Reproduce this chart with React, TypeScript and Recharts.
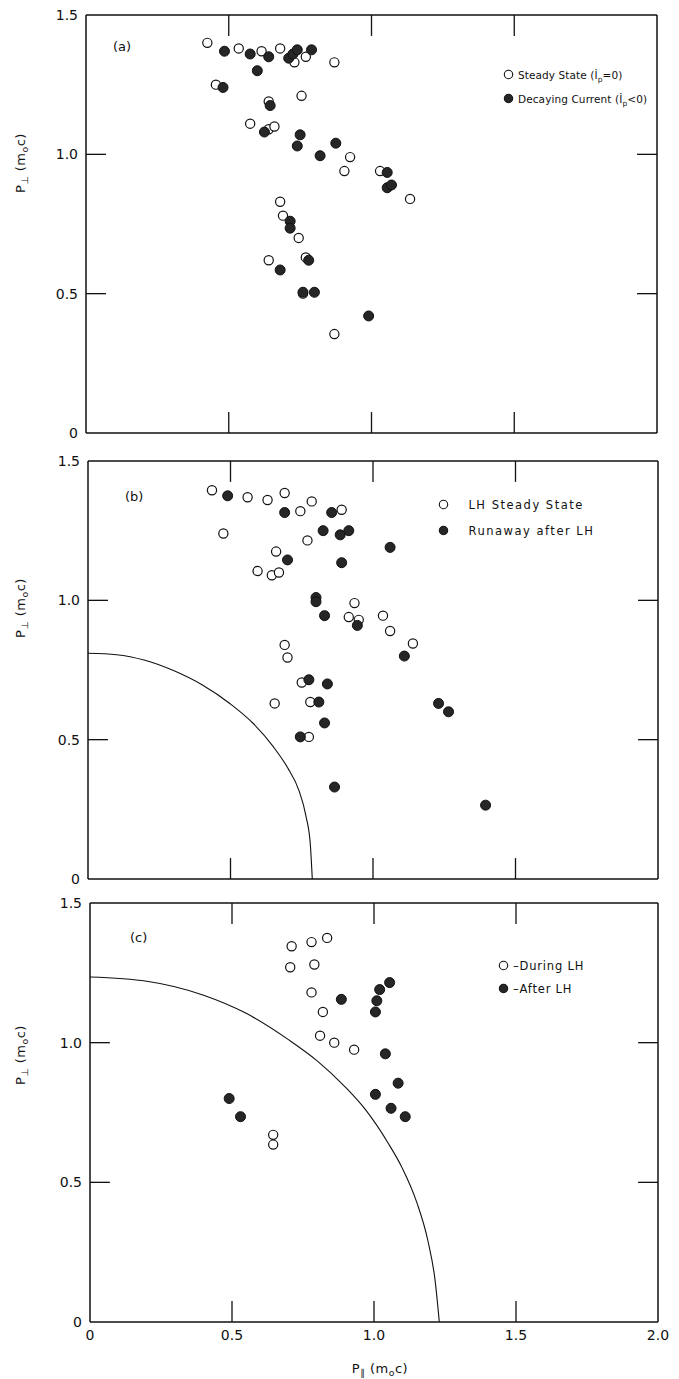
import React from "react";
import { ComposedChart, Scatter, Line, XAxis, YAxis, ReferenceLine } from "recharts";

// panel (a)
const steadyA = [
  [0.425, 1.4], [0.535, 1.38], [0.615, 1.37], [0.68, 1.38], [0.73, 1.33], [0.77, 1.35],
  [0.87, 1.33], [0.455, 1.25], [0.755, 1.21], [0.64, 1.19], [0.575, 1.11], [0.64, 1.09],
  [0.66, 1.1], [0.925, 0.99], [0.905, 0.94], [1.03, 0.94], [1.135, 0.84], [0.68, 0.83],
  [0.69, 0.78], [0.745, 0.7], [0.64, 0.62], [0.77, 0.63], [0.76, 0.5], [0.87, 0.355],
];
const decayA = [
  [0.485, 1.37], [0.575, 1.36], [0.64, 1.35], [0.71, 1.345], [0.725, 1.36], [0.74, 1.375],
  [0.79, 1.375], [0.6, 1.3], [0.48, 1.24], [0.645, 1.175], [0.625, 1.08], [0.75, 1.07],
  [0.74, 1.03], [0.875, 1.04], [0.82, 0.995], [1.055, 0.935], [1.055, 0.88], [1.07, 0.89],
  [0.715, 0.76], [0.715, 0.735], [0.78, 0.62], [0.68, 0.585], [0.76, 0.505], [0.8, 0.505],
  [0.99, 0.42],
];

// panel (b)
const steadyB = [
  [0.435, 1.395], [0.56, 1.37], [0.63, 1.36], [0.69, 1.385], [0.785, 1.355], [0.745, 1.32],
  [0.89, 1.325], [0.475, 1.24], [0.77, 1.215], [0.66, 1.175], [0.595, 1.105], [0.645, 1.09],
  [0.67, 1.1], [0.935, 0.99], [0.915, 0.94], [0.95, 0.93], [1.035, 0.945], [1.06, 0.89],
  [1.14, 0.845], [0.69, 0.84], [0.7, 0.795], [0.75, 0.705], [0.655, 0.63], [0.78, 0.635],
  [0.775, 0.51],
];
const runawayB = [
  [0.49, 1.375], [0.69, 1.315], [0.855, 1.315], [0.825, 1.25], [0.885, 1.235], [0.915, 1.25],
  [1.06, 1.19], [0.7, 1.145], [0.89, 1.135], [0.8, 1.01], [0.8, 0.995], [0.83, 0.945],
  [0.945, 0.91], [1.11, 0.8], [0.775, 0.715], [0.84, 0.7], [0.81, 0.635], [1.23, 0.63],
  [1.265, 0.6], [0.83, 0.56], [0.745, 0.51], [0.865, 0.33], [1.395, 0.265],
];
const curveB = [
  [0, 0.81], [0.1, 0.805], [0.2, 0.785], [0.3, 0.748], [0.4, 0.697], [0.5, 0.628],
  [0.58, 0.558], [0.65, 0.475], [0.7, 0.4], [0.74, 0.318], [0.765, 0.225], [0.78, 0.125],
  [0.787, 0],
];

// panel (c)
const duringC = [
  [0.71, 1.345], [0.78, 1.36], [0.835, 1.375], [0.705, 1.27], [0.79, 1.28], [0.78, 1.18],
  [0.82, 1.11], [0.81, 1.025], [0.86, 1.0], [0.93, 0.975], [0.645, 0.67], [0.645, 0.635],
];
const afterC = [
  [0.885, 1.155], [1.01, 1.15], [1.02, 1.19], [1.055, 1.215], [1.005, 1.11], [1.04, 0.96],
  [1.085, 0.855], [1.005, 0.815], [1.06, 0.765], [1.11, 0.735], [0.49, 0.8], [0.53, 0.735],
];
const curveC = [
  [0, 1.235], [0.2, 1.22], [0.4, 1.17], [0.55, 1.105], [0.7, 1.01], [0.8, 0.935],
  [0.9, 0.84], [0.97, 0.76], [1.05, 0.64], [1.1, 0.55], [1.15, 0.43], [1.19, 0.29],
  [1.215, 0.15], [1.23, 0],
];

const xTicks = [0, 0.5, 1, 1.5, 2];
const yTicks = [0, 0.5, 1, 1.5];

const INK = "#111";
const FONT = "'DejaVu Sans', sans-serif";

const toPts = (a: number[][]) => a.map(([x, y]) => ({ x, y }));
const fmt = (v: number) => (v === 0 ? "0" : v.toFixed(1));

const OpenDot = (p: any) => (
  <circle cx={p.cx} cy={p.cy} r={4.6} fill="#fff" stroke={INK} strokeWidth={1.2} />
);
const FilledDot = (p: any) => (
  <circle cx={p.cx} cy={p.cy} r={5} fill="#262626" stroke={INK} strokeWidth={1} />
);

const Sub = ({ children }: { children: React.ReactNode }) => (
  <span style={{ fontSize: "0.72em", position: "relative", top: "0.35em" }}>{children}</span>
);

function Panel(props: {
  top: number;
  height: number;
  left: number;
  right: number;
  showX: boolean;
  open: number[][];
  filled: number[][];
  curve?: number[][];
}) {
  const { top, height, left, right, showX, open, filled, curve } = props;
  const line = { stroke: INK, strokeWidth: 1.5 };
  const tk = { stroke: INK, strokeWidth: 1.3 };
  return (
    <div style={{ position: "absolute", left: 0, top }}>
      <ComposedChart
        width={679}
        height={height}
        margin={{ top: 15, right, bottom: showX ? 27 : 15, left: 0 }}
      >
        <XAxis
          type="number"
          dataKey="x"
          domain={[0, 2]}
          ticks={xTicks}
          interval={0}
          hide={!showX}
          height={30}
          axisLine={false}
          tickLine={false}
          tickFormatter={fmt}
          tick={{ fontSize: 14, fill: INK, fontFamily: FONT }}
        />
        <YAxis
          type="number"
          dataKey="y"
          domain={[0, 1.5]}
          ticks={yTicks}
          interval={0}
          width={left}
          axisLine={false}
          tickLine={false}
          tickFormatter={fmt}
          tick={{ fontSize: 14, fill: INK, fontFamily: FONT }}
        />
        <ReferenceLine x={0} {...line} ifOverflow="visible" />
        <ReferenceLine x={2} {...line} ifOverflow="visible" />
        <ReferenceLine y={0} {...line} ifOverflow="visible" />
        <ReferenceLine y={1.5} {...line} ifOverflow="visible" />
        {[0.5, 1, 1.5].map((v) => (
          <ReferenceLine key={"b" + v} segment={[{ x: v, y: 0 }, { x: v, y: 0.075 }]} {...tk} />
        ))}
        {[0.5, 1, 1.5].map((v) => (
          <ReferenceLine key={"t" + v} segment={[{ x: v, y: 1.5 }, { x: v, y: 1.425 }]} {...tk} />
        ))}
        {[0.5, 1].map((v) => (
          <ReferenceLine key={"l" + v} segment={[{ x: 0, y: v }, { x: 0.07, y: v }]} {...tk} />
        ))}
        {[0.5, 1].map((v) => (
          <ReferenceLine key={"r" + v} segment={[{ x: 2, y: v }, { x: 1.93, y: v }]} {...tk} />
        ))}
        {curve && (
          <Line
            data={toPts(curve)}
            dataKey="y"
            type="monotone"
            stroke={INK}
            strokeWidth={1.1}
            dot={false}
            activeDot={false}
            isAnimationActive={false}
          />
        )}
        <Scatter data={toPts(open)} dataKey="y" shape={OpenDot} isAnimationActive={false} />
        <Scatter data={toPts(filled)} dataKey="y" shape={FilledDot} isAnimationActive={false} />
      </ComposedChart>
    </div>
  );
}

const txt: React.CSSProperties = {
  position: "absolute",
  fontFamily: FONT,
  color: INK,
  whiteSpace: "nowrap",
  lineHeight: 1,
};

function YTitle({ cy }: { cy: number }) {
  return (
    <div
      style={{
        ...txt,
        left: 20,
        top: cy,
        fontSize: 13,
        letterSpacing: 0.5,
        transform: "translate(-50%, -50%) rotate(-90deg)",
      }}
    >
      P<Sub>⊥</Sub> (m<Sub>o</Sub>c)
    </div>
  );
}

function LegendRow(props: {
  x: number;
  y: number;
  filled: boolean;
  children: React.ReactNode;
  spacing?: number;
  size?: number;
}) {
  const { x, y, filled, children, spacing = 0.6, size = 11.5 } = props;
  return (
    <div style={{ ...txt, left: x - 5, top: y - 7, fontSize: size, letterSpacing: spacing }}>
      <svg width={11} height={11} style={{ verticalAlign: "-1px", marginRight: 4 }}>
        <circle
          cx={5.5}
          cy={5.5}
          r={4.2}
          fill={filled ? "#262626" : "#fff"}
          stroke={INK}
          strokeWidth={1.1}
        />
      </svg>
      {children}
    </div>
  );
}

export default function App() {
  return (
    <div style={{ position: "absolute", left: 0, top: 0, width: 679, height: 1379, background: "#fff" }}>
      <Panel top={0} height={448} left={86} right={22} showX={false} open={steadyA} filled={decayA} />
      <Panel top={446} height={448} left={88} right={21} showX={false} open={steadyB} filled={runawayB} curve={curveB} />
      <Panel top={888} height={491} left={90} right={21} showX={true} open={duringC} filled={afterC} curve={curveC} />

      <div style={{ ...txt, left: 113, top: 40, fontSize: 13 }}>(a)</div>
      <div style={{ ...txt, left: 125, top: 490, fontSize: 13 }}>(b)</div>
      <div style={{ ...txt, left: 130, top: 931, fontSize: 13 }}>(c)</div>

      <LegendRow x={508} y={76} filled={false} size={10.5} spacing={0.1}>
        Steady State (İ<Sub>p</Sub>=0)
      </LegendRow>
      <LegendRow x={508} y={100} filled={true} size={10.5} spacing={0.1}>
        Decaying Current (İ<Sub>p</Sub>&lt;0)
      </LegendRow>

      <LegendRow x={443} y={506} filled={false} spacing={1.5}>
        {"\u00a0\u00a0\u00a0LH Steady State"}
      </LegendRow>
      <LegendRow x={443} y={532} filled={true} spacing={1.5}>
        {"\u00a0\u00a0\u00a0Runaway after LH"}
      </LegendRow>

      <LegendRow x={503} y={967} filled={false} spacing={0.8}>
        –During LH
      </LegendRow>
      <LegendRow x={503} y={990} filled={true} spacing={0.8}>
        –After LH
      </LegendRow>

      <YTitle cy={163} />
      <YTitle cy={608} />
      <YTitle cy={1055} />

      <div style={{ ...txt, left: 380, top: 1368, fontSize: 13, letterSpacing: 0.5, transform: "translate(-50%, -50%)" }}>
        P<Sub>∥</Sub> (m<Sub>o</Sub>c)
      </div>
    </div>
  );
}
